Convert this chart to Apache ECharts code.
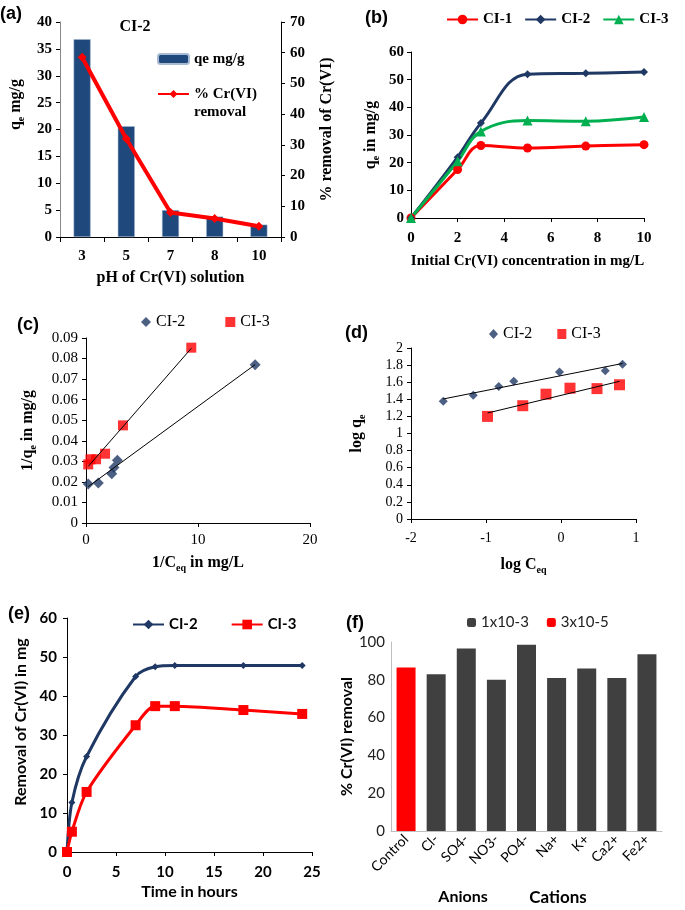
<!DOCTYPE html>
<html>
<head>
<meta charset="utf-8">
<script src="https://cdn.jsdelivr.net/npm/echarts@6/dist/echarts.min.js"></script>
<style>html,body{margin:0;padding:0;background:#fff;}#c{width:685px;height:910px;}</style>
</head>
<body>
<div id="c"></div>
<script>
// ---------- DATA ----------
// (a) effect of pH, CI-2
const pHLevels = ['3', '5', '7', '8', '10'];
const qeByPH = [36.8, 20.6, 5.0, 3.8, 2.3];
const removalByPH = [58.5, 32, 8, 6, 3.5];

// (b) initial concentration
const initConc = [0, 2, 3, 5, 7.5, 10];
const qeCI1 = [0, 17.5, 26.2, 25.3, 26.0, 26.5];
const qeCI2 = [0, 22.0, 34.3, 52.0, 52.3, 52.8];
const qeCI3 = [0, 20.5, 31.3, 35.2, 35.0, 36.5];

// (c) Langmuir
const invCeqCI2 = [0.2, 1.1, 2.3, 2.5, 2.8, 15.1];
const invQeCI2 = [0.019, 0.0195, 0.024, 0.027, 0.0305, 0.077];
const invCeqCI3 = [0.2, 0.4, 0.9, 1.7, 3.3, 9.4];
const invQeCI3 = [0.0285, 0.031, 0.031, 0.0337, 0.0475, 0.0853];

// (d) Freundlich
const logCeqCI2 = [-1.57, -1.17, -0.83, -0.63, -0.02, 0.59, 0.82];
const logQeCI2 = [1.376, 1.446, 1.55, 1.61, 1.72, 1.735, 1.81];
const logCeqCI3 = [-0.98, -0.51, -0.20, 0.12, 0.48, 0.78];
const logQeCI3 = [1.20, 1.325, 1.46, 1.53, 1.525, 1.57];

// (e) kinetics
const timeHours = [0, 0.5, 2, 7, 9, 11, 18, 24];
const removedCI2 = [0, 12.7, 24.5, 45.0, 47.5, 47.8, 47.8, 47.8];
const removedCI3 = [0, 5.2, 15.4, 32.5, 37.4, 37.4, 36.4, 35.4];

// (f) interfering ions
const ions = ['Control', 'Cl-', 'SO4-', 'NO3-', 'PO4-', 'Na+', 'K+', 'Ca2+', 'Fe2+'];
const ionRemoval = [86.5, 83, 96.5, 80, 98.5, 81, 86, 81, 93.5];

// ---------- HELPERS ----------
const SERIF = 'Liberation Serif';
const CAL = 'Lato';
const NAVY = '#1F3864';
const RED = '#FF0000';
const GREEN = '#00B050';

function pairs(xs, ys) { return xs.map((x, i) => [x, ys[i]]); }
function fitLine(xs, ys) {
  const n = xs.length;
  const mx = xs.reduce((a, b) => a + b, 0) / n;
  const my = ys.reduce((a, b) => a + b, 0) / n;
  let sxy = 0, sxx = 0;
  for (let i = 0; i < n; i++) { sxy += (xs[i] - mx) * (ys[i] - my); sxx += (xs[i] - mx) * (xs[i] - mx); }
  const b = sxy / sxx, a = my - b * mx;
  const x0 = Math.min(...xs), x1 = Math.max(...xs);
  return [[x0, a + b * x0], [x1, a + b * x1]];
}
function lbl(family, size, bold, extra) {
  return Object.assign({ fontFamily: family, fontSize: size, fontWeight: bold ? 'bold' : 'normal', color: '#000' }, extra || {});
}
function richName(family, size) {
  return {
    b: { fontFamily: family, fontWeight: 'bold', fontSize: size, color: '#000', lineHeight: 20 },
    s: { fontFamily: family, fontWeight: 'bold', fontSize: Math.round(size * 0.62), color: '#000', lineHeight: 10, verticalAlign: 'bottom' }
  };
}
const blackLine = { show: true, onZero: false, lineStyle: { color: '#000', width: 1 } };
const tickOut = { show: true, length: 4, lineStyle: { color: '#000' } };
const noSplit = { show: false };
const stripName = n => n.split('#')[0];
const REMOVAL_NAME = '% Cr(VI) removal';

const option = {
  animation: false,
  backgroundColor: '#fff',
  grid: [
    { left: 60, top: 22, width: 221, height: 215 },   // a
    { left: 411, top: 52, width: 233, height: 166 },  // b
    { left: 86, top: 338, width: 224, height: 185 },  // c
    { left: 411, top: 348, width: 225, height: 171 }, // d
    { left: 67, top: 618, width: 245, height: 234 },  // e
    { left: 391, top: 642, width: 271, height: 189 }  // f
  ],
  xAxis: [
    { type: 'category', gridIndex: 0, data: pHLevels, axisLine: blackLine, axisTick: { show: true, length: 5, lineStyle: { color: '#000' } },
      axisLabel: lbl(SERIF, 15, true, { margin: 12 }), splitLine: noSplit,
      name: 'pH of Cr(VI) solution', nameLocation: 'middle', nameGap: 33, nameTextStyle: lbl(SERIF, 16, true) },
    { type: 'value', gridIndex: 1, min: 0, max: 10, interval: 2, axisLine: blackLine, axisTick: tickOut,
      axisLabel: lbl(SERIF, 15, true, { margin: 13 }), splitLine: noSplit,
      name: 'Initial Cr(VI) concentration in mg/L', nameLocation: 'middle', nameGap: 36, nameTextStyle: lbl(SERIF, 15, true) },
    { type: 'value', gridIndex: 2, min: 0, max: 20, interval: 10, axisLine: blackLine, axisTick: tickOut,
      axisLabel: lbl(SERIF, 15, false, { margin: 10 }), splitLine: noSplit,
      name: '{b|1/C}{s|eq}{b| in mg/L}', nameLocation: 'middle', nameGap: 30, nameTextStyle: { rich: richName(SERIF, 16) } },
    { type: 'value', gridIndex: 3, min: -2, max: 1, interval: 1, axisLine: blackLine, axisTick: tickOut,
      axisLabel: lbl(SERIF, 14, false, { margin: 12 }), splitLine: noSplit,
      name: '{b|log C}{s|eq}', nameLocation: 'middle', nameGap: 36, nameTextStyle: { rich: richName(SERIF, 16) } },
    { type: 'value', gridIndex: 4, min: 0, max: 25, interval: 5, axisLine: blackLine, axisTick: tickOut,
      axisLabel: lbl(CAL, 15, true, { margin: 13 }), splitLine: noSplit,
      name: 'Time in hours', nameLocation: 'middle', nameGap: 32, nameTextStyle: lbl(CAL, 16, true) },
    { type: 'category', gridIndex: 5, data: ions, axisLine: { show: true, onZero: false, lineStyle: { color: '#BFBFBF', width: 1 } }, axisTick: { show: false },
      axisLabel: lbl(CAL, 14, false, { rotate: 45, margin: 6, interval: 0 }), splitLine: noSplit }
  ],
  yAxis: [
    { type: 'value', gridIndex: 0, min: 0, max: 40, interval: 5, axisLine: { show: true, onZero: false, lineStyle: { color: '#888', width: 1 } }, axisTick: tickOut,
      axisLabel: lbl(SERIF, 15, true, { margin: 8 }), splitLine: noSplit,
      name: '{b|q}{s|e}{b| mg/g}', nameLocation: 'middle', nameRotate: 90, nameGap: 34,
      nameTextStyle: { rich: richName(SERIF, 16), padding: [0, 0, 0, 50] } },
    { type: 'value', gridIndex: 0, position: 'right', min: 0, max: 70, interval: 10, axisLine: blackLine, axisTick: tickOut,
      axisLabel: lbl(SERIF, 15, true, { margin: 9 }), splitLine: noSplit,
      name: '% removal of Cr(VI)', nameLocation: 'middle', nameRotate: 90, nameGap: 38, nameTextStyle: lbl(SERIF, 16, true) },
    { type: 'value', gridIndex: 1, min: 0, max: 60, interval: 10, axisLine: blackLine, axisTick: tickOut,
      axisLabel: lbl(SERIF, 15, true, { margin: 7 }), splitLine: noSplit,
      name: '{b|q}{s|e}{b| in mg/g}', nameLocation: 'middle', nameRotate: 90, nameGap: 30, nameTextStyle: { rich: richName(SERIF, 16) } },
    { type: 'value', gridIndex: 2, min: 0, max: 0.09, interval: 0.01, axisLine: blackLine, axisTick: tickOut,
      axisLabel: lbl(SERIF, 15, false, { margin: 8, formatter: v => v === 0 ? '0' : v.toFixed(2) }), splitLine: noSplit,
      name: '{b|1/q}{s|e}{b| in mg/g}', nameLocation: 'middle', nameRotate: 90, nameGap: 48, nameTextStyle: { rich: richName(SERIF, 16) } },
    { type: 'value', gridIndex: 3, min: 0, max: 2, interval: 0.2, axisLine: blackLine, axisTick: tickOut,
      axisLabel: lbl(SERIF, 14, false, { margin: 8, formatter: v => String(Math.round(v * 10) / 10) }), splitLine: noSplit,
      name: '{b|log q}{s|e}', nameLocation: 'middle', nameRotate: 90, nameGap: 44, nameTextStyle: { rich: richName(SERIF, 16) } },
    { type: 'value', gridIndex: 4, min: 0, max: 60, interval: 10, axisLine: blackLine, axisTick: tickOut,
      axisLabel: lbl(CAL, 15, true, { margin: 10 }), splitLine: noSplit,
      name: 'Removal of Cr(VI) in mg', nameLocation: 'middle', nameRotate: 90, nameGap: 38,
      nameTextStyle: lbl(CAL, 16, true, { padding: [0, 0, 0, 26] }) },
    { type: 'value', gridIndex: 5, min: 0, max: 100, interval: 20, axisLine: { show: true, onZero: false, lineStyle: { color: '#BFBFBF', width: 1 } }, axisTick: { show: false },
      axisLabel: lbl(CAL, 15, false, { margin: 6, color: '#222' }), splitLine: noSplit,
      name: '% Cr(VI) removal', nameLocation: 'middle', nameRotate: 90, nameGap: 30, nameTextStyle: lbl(CAL, 16, true) }
  ],
  legend: [
    { left: 157, top: 50, padding: 0, orient: 'vertical', itemWidth: 31, itemHeight: 10, itemGap: -1,
      textStyle: lbl(SERIF, 15, true, { lineHeight: 18 }),
      formatter: n => n === REMOVAL_NAME ? ' \n% Cr(VI)\nremoval' : n,
      data: ['qe mg/g', REMOVAL_NAME] },
    { left: 446, top: 12, padding: 0, itemWidth: 31, itemHeight: 12, itemGap: 12, formatter: stripName,
      textStyle: lbl(SERIF, 15, true), data: ['CI-1#b', 'CI-2#b', 'CI-3#b'] },
    { left: 141, top: 314, padding: 0, itemWidth: 10, itemHeight: 10, itemGap: 40, formatter: stripName,
      textStyle: lbl(SERIF, 16, false), data: ['CI-2#c', 'CI-3#c'] },
    { left: 489, top: 326, padding: 0, itemWidth: 9, itemHeight: 10, itemGap: 25, formatter: stripName,
      textStyle: lbl(SERIF, 16, false), data: ['CI-2#d', 'CI-3#d'] },
    { left: 132, top: 617, padding: 0, itemWidth: 31, itemHeight: 12, itemGap: 33, formatter: stripName,
      textStyle: lbl(CAL, 15, true), data: ['CI-2#e', 'CI-3#e'] },
    { left: 467, top: 615, padding: 0, itemWidth: 9, itemHeight: 9, itemGap: 18,
      textStyle: lbl(CAL, 15, false, { color: '#222' }), data: ['1x10-3', '3x10-5'] }
  ],
  series: [
    // (a)
    { name: 'qe mg/g', type: 'bar', xAxisIndex: 0, yAxisIndex: 0, data: qeByPH, barWidth: 17,
      itemStyle: { color: '#1F497D', borderColor: '#A9BBD3', borderWidth: 0.5 } },
    { name: REMOVAL_NAME, type: 'line', xAxisIndex: 0, yAxisIndex: 1, data: removalByPH,
      symbol: 'diamond', symbolSize: 9, lineStyle: { color: RED, width: 4 }, itemStyle: { color: RED } },
    // (b)
    { name: 'CI-1#b', type: 'line', xAxisIndex: 1, yAxisIndex: 2, data: pairs(initConc, qeCI1), smooth: 0.4,
      symbol: 'circle', symbolSize: 9, lineStyle: { color: RED, width: 3 }, itemStyle: { color: RED } },
    { name: 'CI-2#b', type: 'line', xAxisIndex: 1, yAxisIndex: 2, data: pairs(initConc, qeCI2), smooth: 0.4,
      symbol: 'diamond', symbolSize: 8, lineStyle: { color: NAVY, width: 3 }, itemStyle: { color: NAVY } },
    { name: 'CI-3#b', type: 'line', xAxisIndex: 1, yAxisIndex: 2, data: pairs(initConc, qeCI3), smooth: 0.4,
      symbol: 'triangle', symbolSize: 10, lineStyle: { color: GREEN, width: 3 }, itemStyle: { color: GREEN } },
    // (c)
    { name: 'CI-2#c', type: 'scatter', xAxisIndex: 2, yAxisIndex: 3, data: pairs(invCeqCI2, invQeCI2),
      symbol: 'diamond', symbolSize: 11, itemStyle: { color: NAVY } },
    { name: 'CI-3#c', type: 'scatter', xAxisIndex: 2, yAxisIndex: 3, data: pairs(invCeqCI3, invQeCI3),
      symbol: 'rect', symbolSize: 10, itemStyle: { color: RED } },
    { name: 'fit-c2', type: 'line', xAxisIndex: 2, yAxisIndex: 3, data: fitLine(invCeqCI2, invQeCI2), symbol: 'none',
      lineStyle: { color: '#000', width: 1 }, z: 5 },
    { name: 'fit-c3', type: 'line', xAxisIndex: 2, yAxisIndex: 3, data: fitLine(invCeqCI3, invQeCI3), symbol: 'none',
      lineStyle: { color: '#000', width: 1 }, z: 5 },
    // (d)
    { name: 'CI-2#d', type: 'scatter', xAxisIndex: 3, yAxisIndex: 4, data: pairs(logCeqCI2, logQeCI2),
      symbol: 'diamond', symbolSize: 9, itemStyle: { color: NAVY } },
    { name: 'CI-3#d', type: 'scatter', xAxisIndex: 3, yAxisIndex: 4, data: pairs(logCeqCI3, logQeCI3),
      symbol: 'rect', symbolSize: 11, itemStyle: { color: RED } },
    { name: 'fit-d2', type: 'line', xAxisIndex: 3, yAxisIndex: 4, data: fitLine(logCeqCI2, logQeCI2), symbol: 'none',
      lineStyle: { color: '#000', width: 1 }, z: 5 },
    { name: 'fit-d3', type: 'line', xAxisIndex: 3, yAxisIndex: 4, data: fitLine(logCeqCI3, logQeCI3), symbol: 'none',
      lineStyle: { color: '#000', width: 1 }, z: 5 },
    // (e)
    { name: 'CI-2#e', type: 'line', xAxisIndex: 4, yAxisIndex: 5, data: pairs(timeHours, removedCI2), smooth: 0.3,
      symbol: 'diamond', symbolSize: 7, lineStyle: { color: NAVY, width: 3 }, itemStyle: { color: NAVY } },
    { name: 'CI-3#e', type: 'line', xAxisIndex: 4, yAxisIndex: 5, data: pairs(timeHours, removedCI3), smooth: 0.3,
      symbol: 'rect', symbolSize: 10, lineStyle: { color: RED, width: 3 }, itemStyle: { color: RED } },
    // (f)
    { name: '1x10-3', type: 'bar', xAxisIndex: 5, yAxisIndex: 6, stack: 'f', barWidth: 19,
      data: ionRemoval.map((v, i) => ions[i] === 'Control' ? null : v), itemStyle: { color: '#404040' } },
    { name: '3x10-5', type: 'bar', xAxisIndex: 5, yAxisIndex: 6, stack: 'f', barWidth: 19,
      data: ionRemoval.map((v, i) => ions[i] === 'Control' ? v : null), itemStyle: { color: RED } }
  ],
  graphic: [
    { type: 'text', x: 0, y: 14, style: { text: '(a)', font: 'bold 18px "Liberation Sans"', fill: '#000', align: 'left', verticalAlign: 'middle' } },
    { type: 'text', x: 365, y: 18, style: { text: '(b)', font: 'bold 18px "Liberation Sans"', fill: '#000', align: 'left', verticalAlign: 'middle' } },
    { type: 'text', x: 17, y: 325, style: { text: '(c)', font: 'bold 18px "Liberation Sans"', fill: '#000', align: 'left', verticalAlign: 'middle' } },
    { type: 'text', x: 345, y: 333, style: { text: '(d)', font: 'bold 18px "Liberation Sans"', fill: '#000', align: 'left', verticalAlign: 'middle' } },
    { type: 'text', x: 8, y: 614, style: { text: '(e)', font: 'bold 18px "Liberation Sans"', fill: '#000', align: 'left', verticalAlign: 'middle' } },
    { type: 'text', x: 346, y: 623, style: { text: '(f)', font: 'bold 18px "Liberation Sans"', fill: '#000', align: 'left', verticalAlign: 'middle' } },
    { type: 'text', x: 135, y: 27, style: { text: 'CI-2', font: 'bold 16px "Liberation Serif"', fill: '#000', align: 'center', verticalAlign: 'middle' } },
    { type: 'text', x: 463, y: 897, style: { text: 'Anions', font: 'bold 16px "Lato"', fill: '#000', align: 'center', verticalAlign: 'middle' } },
    { type: 'text', x: 558, y: 898, style: { text: 'Cations', font: 'bold 17px "Lato"', fill: '#000', align: 'center', verticalAlign: 'middle' } }
  ]
};

const chart = echarts.init(document.getElementById('c'), null, { renderer: 'canvas' });
chart.setOption(option);
</script>
</body>
</html>
